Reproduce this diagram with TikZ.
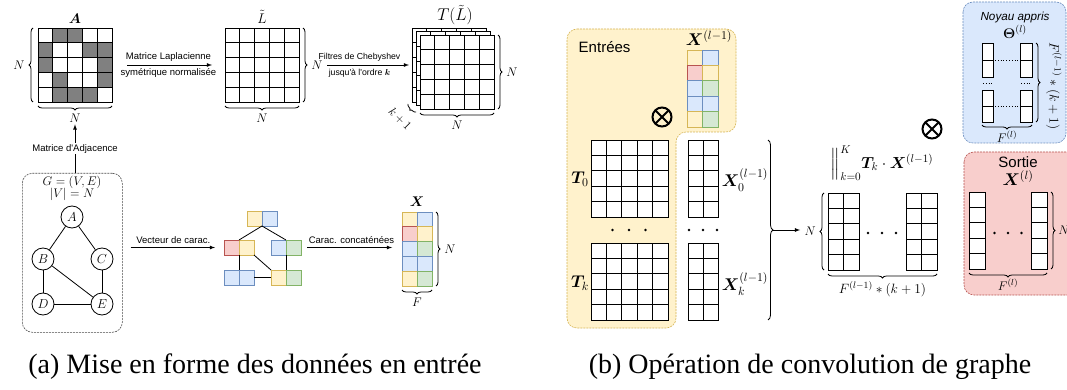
\RequirePackage{fix-cm}
\documentclass[tikz,border=0pt]{standalone}
\usepackage{amsmath}
\usepackage{bm}
\usepackage{fontspec}
\setmainfont{Liberation Serif}
\newfontfamily\labelfont{Liberation Sans}
\usetikzlibrary{positioning, decorations.pathreplacing}

\definecolor{redfill}{HTML}{F8CECC}
\definecolor{reddraw}{HTML}{B85450}
\definecolor{yelfill}{HTML}{FFF2CC}
\definecolor{yeldraw}{HTML}{D6B656}
\definecolor{blufill}{HTML}{DAE8FC}
\definecolor{bludraw}{HTML}{6C8EBF}
\definecolor{grnfill}{HTML}{D5E8D4}
\definecolor{grndraw}{HTML}{82B366}

% Grid of white cells: x, y, columns, rows, cell width, cell height
\newcommand{\cellgrid}[6]{%
	\foreach \ci in {1, ..., #3}
		\foreach \ri in {1, ..., #4}
			\draw [cell] ({#1 + (\ci - 1) * #5}, {#2 + (\ri - 1) * #6}) rectangle ++(#5, #6);
}

% Two-column grid of coloured cells: x, y, cell width, cell height, styles
\newcommand{\colgrid}[5]{%
	\foreach \s [count = \i from 0] in {#5}
	{
		\pgfmathtruncatemacro{\cx}{mod(\i, 2)}
		\pgfmathtruncatemacro{\ry}{\i / 2}
		\draw [\s] ({#1 + \cx * #3}, {#2 + \ry * #4}) rectangle ++(#3, #4);
	}
}

\begin{document}
\begin{tikzpicture}[> = latex, x = 1pt, y = -1pt, line width = 0.8pt,
	font = \labelfont\fontsize{9.5}{11}\selectfont,
	cell/.style = {draw = black, fill = white},
	mat/.style = {inner sep = 0pt, outer sep = 0pt},
	mth/.style = {font = \fontsize{12.5}{14}\selectfont, inner sep = 1pt},
	mthb/.style = {font = \fontsize{14}{16}\selectfont, inner sep = 1pt},
	big/.style = {font = \fontsize{17}{19}\selectfont, inner sep = 1pt},
	brc/.style = {decorate, decoration = {brace, amplitude = 4pt}},
	vtx/.style = {circle, draw, minimum size = 22pt, inner sep = 0pt, font = \fontsize{13}{15}\selectfont},
	fcell/.style = {minimum size = 15pt, inner sep = 0pt, outer sep = 0pt},
	rc/.style = {fill = redfill, draw = reddraw},
	yc/.style = {fill = yelfill, draw = yeldraw},
	bc/.style = {fill = blufill, draw = bludraw},
	gc/.style = {fill = grnfill, draw = grndraw},
	dbox/.style = {draw = black!70, line width = 0.6pt, dash pattern = on 2pt off 1pt, rounded corners = 10pt},
	otimes/.style = {circle, draw, line width = 2pt, minimum size = 19pt, inner sep = 0pt,
		path picture = {\draw [line width = 2pt]
			(path picture bounding box.north west) -- (path picture bounding box.south east)
			(path picture bounding box.north east) -- (path picture bounding box.south west);}}]

	% Bounding box
	
	\useasboundingbox (0, 0) rectangle (1067, 390);
	\fill [white] (0, 0) rectangle (1067, 390);
	
	% Draw coloured boxes
	
	\node [dbox, minimum width = 100pt, minimum height = 159pt, anchor = north west] (gbox) at (22, 173) {};
	\draw [dbox, fill = yelfill, draw = yeldraw] (567, 29) -- (736, 29) -- (736, 132) -- (676, 132) -- (676, 328) -- (567, 328) -- cycle;
	\draw [dbox, fill = blufill, draw = bludraw] (963, 2) rectangle (1066, 143);
	\draw [dbox, fill = redfill, draw = reddraw] (964, 152) rectangle (1080, 295);
	
	% (a) Adjacency matrix
	
	\cellgrid{38}{28}{5}{5}{14.8}{14.8}
	\foreach \cx/\ry in {2/1, 3/1, 1/2, 4/2, 5/2, 1/3, 5/3, 2/4, 5/4, 2/5, 3/5, 4/5}
		\draw [cell, fill = gray] ({38 + (\cx - 1) * 14.8}, {28 + (\ry - 1) * 14.8}) rectangle ++(14.8, 14.8);
	\node [mat, minimum width = 74pt, minimum height = 74pt, anchor = north west] (A) at (38, 28) {};
	\node [mthb] (labA) at (75, 19) {$\bm{A}$};
	\draw [brc] (33, 102) -- (33, 28) node [mth, midway, left = 7pt] (nA1) {$N$};
	\draw [brc] (112, 106) -- (38, 106) node [mth, midway, below = 7pt] (nA2) {$N$};
	
	% Laplacian
	
	\cellgrid{225}{28}{5}{5}{14.8}{14.8}
	\node [mat, minimum width = 74pt, minimum height = 74pt, anchor = north west] (L) at (225, 28) {};
	\node [mthb] (labL) at (262, 17) {$\tilde{L}$};
	\draw [brc] (303, 28) -- (303, 102) node [mth, midway, right = 7pt] (nL1) {$N$};
	\draw [brc] (299, 106) -- (225, 106) node [mth, midway, below = 7pt] (nL2) {$N$};
	
	\draw [->, shorten <= 15pt, shorten >= 13pt] (A) -- (L)
		node [midway, above] (lap1) {Matrice Laplacienne}
		node [midway, below] (lap2) {symétrique normalisée};
	
	% Chebyshev stack
	
	\foreach \n in {0, 1, 2}
		\cellgrid{412 + 4 * \n}{28 + 3.5 * \n}{5}{5}{14.8}{14.8}
	\node [mat, minimum width = 74pt, minimum height = 74pt, anchor = north west] (T) at (420, 35) {};
	\node [big] (labT) at (455, 15) {$T(\tilde{L})$};
	\draw [brc] (498, 35) -- (498, 109) node [mth, midway, right = 7pt] (nT1) {$N$};
	\draw [brc] (494, 113) -- (420, 113) node [mth, midway, below = 7pt] (nT2) {$N$};
	\draw [brc, decoration = {brace, amplitude = 3pt}] (416, 112) -- (408, 104);
	\node [mth, font = \fontsize{12}{14}\selectfont, rotate = -45] (nk) at (400, 119) {$k+1$};
	
	\draw [->, shorten <= 28pt, shorten >= 11pt] (L.east) -- (L.east -| T.west)
		node [midway, above, font = \labelfont\fontsize{8.7}{10}\selectfont] (cheb1) {Filtres de Chebyshev}
		node [midway, below, font = \labelfont\fontsize{8.7}{10}\selectfont] (cheb2) {jusqu'à l'ordre $\bm{k}$};
	
	% Graph
	
	\node [mth] (g1) at (72, 182) {$G = (V, E)$};
	\node [mth] (g2) at (72, 194) {$|V| = N$};
	
	\node [vtx] (vA) at (72, 217) {$A$};
	\node [vtx] (vB) at (43, 259) {$B$};
	\node [vtx] (vC) at (102, 259) {$C$};
	\node [vtx] (vD) at (43, 304) {$D$};
	\node [vtx] (vE) at (102, 304) {$E$};
	
	\draw (vA) -- (vB);
	\draw (vA) -- (vC);
	\draw (vB) -- (vD);
	\draw (vB) -- (vE);
	\draw (vC) -- (vE);
	\draw (vD) -- (vE);
	
	\draw [->] (gbox.north -| nA2) -- (nA2)
		node [midway, fill = white, inner sep = 1pt] (adj) {Matrice d'Adjacence};
	
	% Graph with feature vectors
	
	\node [fcell, yc] (fA1) at (254.5, 218.5) {};
	\node [fcell, bc, right = 0pt of fA1] (fA2) {};
	\node [fcell, rc] (fB1) at (231.5, 247.5) {};
	\node [fcell, yc, right = 0pt of fB1] (fB2) {};
	\node [fcell, bc] (fC1) at (278.5, 247.5) {};
	\node [fcell, gc, right = 0pt of fC1] (fC2) {};
	\node [fcell, bc] (fD1) at (231.5, 277.5) {};
	\node [fcell, bc, right = 0pt of fD1] (fD2) {};
	\node [fcell, yc] (fE1) at (278.5, 277.5) {};
	\node [fcell, gc, right = 0pt of fE1] (fE2) {};
	
	\draw (fA1.south east) -- (fB1.north east);
	\draw (fA1.south east) -- (fC1.north east);
	\draw (fB1.south east) -- (fD1.north east);
	\draw (fB2.south east) -- (fE1.north west);
	\draw (fC1.south east) -- (fE1.north east);
	\draw (fD2.east) -- (fE1.west);
	
	\draw [->, shorten <= 8pt, shorten >= 9pt] (gbox.east |- fB1.west) -- (fB1.west)
		node [midway, above] (vec) {Vecteur de carac.};
	
	% Feature matrix X
	
	\colgrid{402}{212}{15}{14.8}{yc, bc, rc, yc, bc, gc, bc, bc, yc, gc}
	\node [mat, minimum width = 30pt, minimum height = 74pt, anchor = north west] (X) at (402, 212) {};
	\node [mthb] (labX) at (417, 202) {$\bm{X}$};
	\draw [brc] (436, 212) -- (436, 286) node [mth, midway, right = 7pt] (nX1) {$N$};
	\draw [brc] (432, 290) -- (402, 290) node [mth, midway, below = 7pt] (nX2) {$F$};
	
	\draw [->, shorten <= 6pt, shorten >= 10pt] (fC2.east) -- (fC2.east -| X.west)
		node [midway, above] (conc) {Carac. concaténées};
	
	% (b) Inputs
	
	\node [anchor = west, font = \labelfont\fontsize{15}{17}\selectfont] (ent) at (575, 47) {Entrées};
	\colgrid{687}{50}{15.5}{15.4}{yc, bc, rc, yc, bc, gc, bc, bc, yc, gc}
	\node [mat, minimum width = 31pt, minimum height = 77pt, anchor = north west] (Xp) at (687, 50) {};
	\node [big] (labXp) at (709, 38) {$\bm{X}^{(l-1)}$};
	\node [otimes] (op1) at (662, 117) {};
	
	\cellgrid{591}{140}{5}{5}{15.4}{15.4}
	\cellgrid{591}{243}{5}{5}{15.4}{15.4}
	\node [big] (T0) at (580, 179) {$\bm{T}_0$};
	\node [big] (Tk) at (580, 283) {$\bm{T}_k$};
	\foreach \i in {-1, 0, 1}
		\fill (629 + 16.5 * \i, 230) circle (1.4);
	
	\cellgrid{688}{140}{2}{5}{15}{15.4}
	\cellgrid{688}{243}{2}{5}{15}{15.4}
	\node [big] (X0) at (745, 180) {$\bm{X}_0^{(l-1)}$};
	\node [big] (Xk) at (745, 284) {$\bm{X}_k^{(l-1)}$};
	\foreach \i in {-1, 0, 1}
		\fill (703 + 14 * \i, 230) circle (1.4);
	
	\draw [brc, decoration = {brace, amplitude = 5pt}] (768, 140) -- (768, 320);
	\coordinate (bigtip) at (773, 230);
	
	% Concatenated product
	
	\node [big, font = \fontsize{16}{18}\selectfont] (prod) at (882, 163) {$\Big\|_{k=0}^{K} \bm{T}_k \cdot \bm{X}^{(l-1)}$};
	\cellgrid{828}{193}{2}{5}{15.5}{15.4}
	\cellgrid{906}{193}{2}{5}{15.5}{15.4}
	\foreach \i in {-1, 0, 1}
		\fill (882 + 14 * \i, 233) circle (1.4);
	\draw [brc] (824, 270) -- (824, 193) node [mth, midway, left = 7pt] (nR) {$N$};
	\draw [brc] (937, 274) -- (828, 274) node [mth, font = \fontsize{13.5}{15}\selectfont, midway, below = 6pt] (fR) {$F^{(l-1)} * (k+1)$};
	
	\draw [->, shorten >= 3pt] (bigtip) -- (bigtip -| nR.west);
	
	\node [otimes] (op2) at (932, 129) {};
	
	% Learned kernel
	
	\node [font = \labelfont\fontsize{11.7}{13}\selectfont\itshape] (noy) at (1015, 17) {Noyau appris};
	\node [mthb] (theta) at (1015, 32) {$\bm{\Theta}^{(l)}$};
	\cellgrid{982}{43}{1}{2}{11.5}{17}
	\cellgrid{1020.5}{43}{1}{2}{11.5}{17}
	\cellgrid{982}{90}{1}{2}{11.5}{16}
	\cellgrid{1020.5}{90}{1}{2}{11.5}{16}
	\draw [dotted] (995, 60) -- (1019, 60);
	\draw [dotted] (995, 106) -- (1019, 106);
	\draw [dotted] (983, 83) -- (993, 83);
	\draw [dotted] (1021, 83) -- (1032, 83);
	\draw [brc] (1036, 43) -- (1036, 122);
	\node [mth, font = \fontsize{13.5}{15}\selectfont, rotate = -90] (fK) at (1054, 86) {$F^{(l-1)} * (k+1)$};
	\draw [brc] (1032, 125) -- (982, 125) node [mth, midway, below = 5pt] (fK2) {$F^{(l)}$};
	
	% Output
	
	\node [font = \labelfont\fontsize{15}{17}\selectfont] (sor) at (1018, 162) {Sortie};
	\node [big] (labXl) at (1018, 178) {$\bm{X}^{(l)}$};
	\cellgrid{969}{192}{1}{5}{16}{15.4}
	\cellgrid{1031}{192}{1}{5}{16}{15.4}
	\foreach \i in {-1, 0, 1}
		\fill (1008 + 13.5 * \i, 233) circle (1.4);
	\draw [brc] (1051, 192) -- (1051, 269) node [mth, midway, right = 6pt] (nS) {$N$};
	\draw [brc] (1047, 273) -- (969, 273) node [mth, midway, below = 5pt] (fS) {$F^{(l)}$};
	
	% Captions
	
	\node [font = \rmfamily\fontsize{28}{30}\selectfont] (capa) at (255, 367) {(a) Mise en forme des données en entrée};
	\node [font = \rmfamily\fontsize{28}{30}\selectfont] (capb) at (810, 367) {(b) Opération de convolution de graphe};

\end{tikzpicture}
\end{document}
